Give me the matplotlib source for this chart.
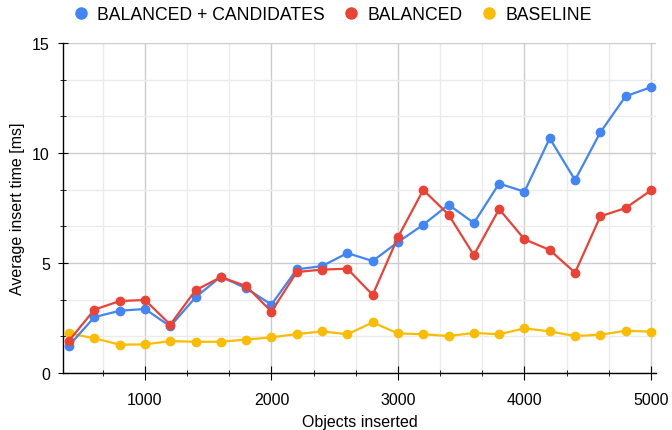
import matplotlib.pyplot as plt
from matplotlib.ticker import MultipleLocator
from matplotlib.lines import Line2D

plt.rcParams['font.family'] = ['Liberation Sans', 'DejaVu Sans']

objects = [400, 600, 800, 1000, 1200, 1400, 1600, 1800, 2000, 2200, 2400, 2600,
           2800, 3000, 3200, 3400, 3600, 3800, 4000, 4200, 4400, 4600, 4800, 5000]
balanced_candidates = [1.25, 2.54, 2.83, 2.91, 2.12, 3.44, 4.38, 3.85, 3.11, 4.71, 4.86, 5.45,
                       5.09, 5.95, 6.74, 7.65, 6.82, 8.61, 8.24, 10.67, 8.77, 10.94, 12.58, 12.99]
balanced = [1.47, 2.88, 3.27, 3.32, 2.20, 3.76, 4.36, 3.95, 2.79, 4.59, 4.70, 4.74,
            3.55, 6.17, 8.32, 7.20, 5.36, 7.45, 6.08, 5.59, 4.56, 7.12, 7.50, 8.30]
baseline = [1.80, 1.58, 1.29, 1.30, 1.45, 1.42, 1.42, 1.52, 1.62, 1.77, 1.89, 1.76,
            2.30, 1.80, 1.76, 1.68, 1.82, 1.76, 2.03, 1.89, 1.68, 1.74, 1.92, 1.88]

labels = ['BALANCED + CANDIDATES', 'BALANCED', 'BASELINE']
colors = ['#4285F4', '#EA4335', '#FBBC04']

fig = plt.figure(figsize=(6.72, 4.31), dpi=100)
ax = fig.add_axes([63 / 672, 57 / 431, 593 / 672, 330 / 431])

# baseline drawn first so the others sit on top
for vals, col in [(baseline, colors[2]), (balanced_candidates, colors[0]), (balanced, colors[1])]:
    ax.plot(objects, vals, color=col, lw=1.6, marker='o', ms=6, zorder=3)

ax.set_xlim(352, 5040)
ax.set_ylim(0, 15)
ax.xaxis.set_major_locator(MultipleLocator(1000))
ax.xaxis.set_minor_locator(MultipleLocator(1000 / 3))
ax.yaxis.set_major_locator(MultipleLocator(5))
ax.yaxis.set_minor_locator(MultipleLocator(5 / 3))
ax.grid(which='major', color='#cccccc', lw=1, zorder=0)
ax.grid(which='minor', color='#ebebeb', lw=1, zorder=0)
ax.set_axisbelow(True)

for s in ['top', 'right']:
    ax.spines[s].set_visible(False)
ax.spines['left'].set_linewidth(1)
ax.spines['bottom'].set_linewidth(1)

ax.tick_params(axis='x', which='major', direction='inout', length=10, labelsize=11.5, pad=9)
ax.tick_params(axis='x', which='minor', direction='inout', length=4)
ax.tick_params(axis='y', which='major', direction='inout', length=7, labelsize=11.5, pad=6)
ax.tick_params(axis='y', which='minor', direction='inout', length=5)

ax.set_xlabel('Objects inserted', fontsize=11.5, labelpad=5)
ax.set_ylabel('Average insert time [ms]', fontsize=11.5, labelpad=5)

handles = [Line2D([], [], color=c, marker='o', ls='none', ms=8) for c in colors]
fig.legend(handles, labels, loc='upper left', bbox_to_anchor=(72 / 672, 0.983), ncol=3,
           frameon=False, fontsize=12.7, handletextpad=0.4, columnspacing=1.03,
           handlelength=1.0, borderpad=0, borderaxespad=0)

fig.savefig('out.png', dpi=100)
